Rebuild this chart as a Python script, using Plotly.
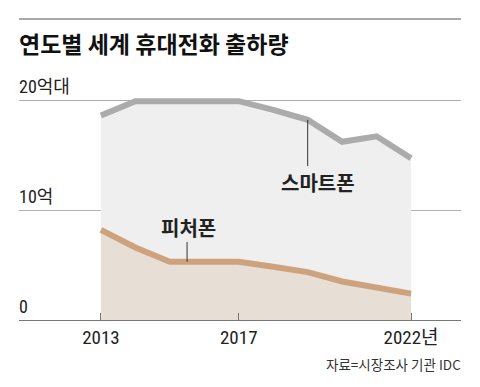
import plotly.graph_objects as go

years = [2013, 2014, 2015, 2016, 2017, 2018, 2019, 2020, 2021, 2022]
smartphone = [18.6, 19.9, 19.9, 19.9, 19.9, 19.1, 18.2, 16.2, 16.7, 14.7]
featurephone = [8.2, 6.6, 5.3, 5.3, 5.3, 4.85, 4.35, 3.5, 3.0, 2.4]
tick_years = [2013, 2017, 2022]
tick_labels = ["2013", "2017", "2022년"]
y_labels = {20: "20억대", 10: "10억", 0: "0"}

title = "연도별 세계 휴대전화 출하량"
source = "자료=시장조사 기관 IDC"

KR = "Noto Sans CJK KR"
NUM = "Roboto Condensed, Noto Sans CJK KR"

H, T, B = 387, 60, 67
ph = H - T - B
def py(pix):
    return (H - B - pix) / ph

fig = go.Figure()
fig.add_trace(go.Scatter(
    x=years, y=smartphone, mode="lines", fill="tozeroy",
    fillcolor="#efefef", line=dict(color="#ababab", width=6),
    hoverinfo="skip", showlegend=False))
fig.add_trace(go.Scatter(
    x=years, y=featurephone, mode="lines", fill="tozeroy",
    fillcolor="#e7dfd5", line=dict(color="#cfa27e", width=6),
    hoverinfo="skip", showlegend=False))

# y labels
for v, t in y_labels.items():
    fig.add_annotation(x=0, xref="paper", y=v, yref="y", text=t,
                       showarrow=False, xanchor="left", yanchor="bottom",
                       yshift=1, xshift=-2,
                       font=dict(family=NUM, size=18, color="#222"))

# leader lines + labels
fig.add_shape(type="line", x0=2019, x1=2019, y0=18.2, y1=14.0,
              line=dict(color="#333", width=1))
fig.add_annotation(x=2019.3, y=12.5, text="<b>스마트폰</b>", showarrow=False,
                   font=dict(family=KR, size=20, color="#222"))
fig.add_shape(type="line", x0=2015.5, x1=2015.5, y0=5.3, y1=7.1,
              line=dict(color="#333", width=1))
fig.add_annotation(x=2015.55, y=8.4, text="<b>피처폰</b>", showarrow=False,
                   font=dict(family=KR, size=20, color="#222"))

# title & rule
fig.add_shape(type="line", xref="paper", yref="paper", x0=0, x1=1,
              y0=py(19), y1=py(19), line=dict(color="#555", width=1.2))
fig.add_annotation(x=0, xref="paper", y=py(43), yref="paper", text="<b>" + title + "</b>",
                   showarrow=False, xanchor="left", yanchor="middle", xshift=-2,
                   font=dict(family=KR, size=23, color="#111"))
fig.add_annotation(x=1, xref="paper", y=py(364), yref="paper", text=source,
                   showarrow=False, xanchor="right", yanchor="middle", xshift=2,
                   font=dict(family=KR, size=13.5, color="#333"))

fig.update_layout(
    width=480, height=387,
    margin=dict(l=19, r=19, t=T, b=B),
    paper_bgcolor="white", plot_bgcolor="white",
    xaxis=dict(range=[2010.623, 2023.449], tickvals=tick_years, ticktext=tick_labels,
               ticks="inside", ticklen=7, tickcolor="#777", tickwidth=1,
               showline=True, linecolor="#777", linewidth=1.2,
               showgrid=False, zeroline=False,
               tickfont=dict(family=NUM, size=19, color="#222")),
    yaxis=dict(range=[0, 23.64], tickvals=[10, 20], showticklabels=False,
               showgrid=True, gridcolor="#b0b0b0", gridwidth=1,
               zeroline=False, showline=False),
)

fig.write_html("out.html", config={"displayModeBar": False},
               post_script="document.body.style.margin='0';")
